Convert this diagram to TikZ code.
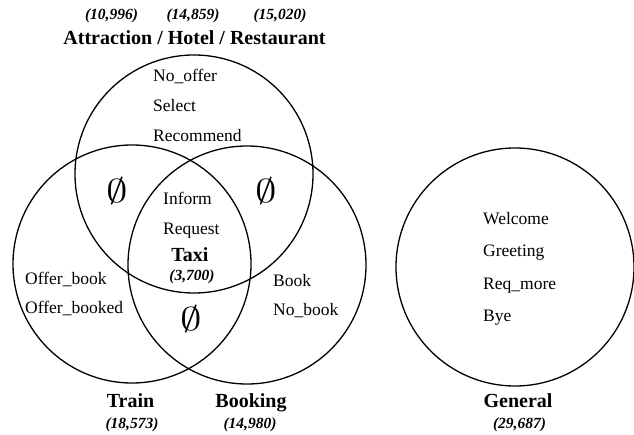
\documentclass[tikz,border=0pt]{standalone}
\usepackage{graphicx}
\usepackage{fontspec}
\setmainfont{Liberation Serif}
\newcommand{\bigempty}{\scalebox{4.3}[3.3]{\fontsize{10}{10}\selectfont$\emptyset$}}
\begin{document}
\begin{tikzpicture}[x=1pt,y=-1pt,
  setc/.style={draw=black,line width=1.3pt,circle,minimum size=238pt,inner sep=0pt},
  itemtxt/.style={anchor=base west,inner sep=0pt,font=\fontsize{17.5}{17.5}\selectfont},
  bigname/.style={anchor=base,inner sep=0pt,font=\fontsize{20}{20}\selectfont\bfseries},
  cnt/.style={anchor=base,inner sep=0pt,font=\fontsize{15.5}{15.5}\selectfont\bfseries\itshape},
  emptyset/.style={inner sep=0pt}]
\useasboundingbox (0,0) rectangle (634,435);
% circles
\node[setc] (top) at (194,174) {};
\node[setc] (train) at (132,264) {};
\node[setc] (booking) at (247,265) {};
\node[setc] (general) at (515,267) {};
% top labels
\node[cnt] (n1) at (111.5,20) {(10,996)};
\node[cnt] (n2) at (193,20) {(14,859)};
\node[cnt] (n3) at (280,20) {(15,020)};
\node[bigname] (ahr) at (194.5,45) {Attraction / Hotel / Restaurant};
% top-only items
\node[itemtxt] (noffer) at (153,82) {No\_offer};
\node[itemtxt] (select) at (153,112) {Select};
\node[itemtxt] (recommend) at (153,142) {Recommend};
% empty sets
\node[emptyset] (e1) at (117,191) {\bigempty};
\node[emptyset] (e2) at (266,191) {\bigempty};
\node[emptyset] (e3) at (191,319) {\bigempty};
% centre
\node[itemtxt] (inform) at (163,205) {Inform};
\node[itemtxt] (request) at (163,235) {Request};
\node[bigname] (taxi) at (190,262) {Taxi};
\node[cnt] (taxin) at (192,281) {(3,700)};
% train-only
\node[itemtxt] (offerbook) at (25,285) {Offer\_book};
\node[itemtxt] (offerbooked) at (25,314) {Offer\_booked};
% booking-only
\node[itemtxt] (book) at (273,287) {Book};
\node[itemtxt] (nobook) at (273,316) {No\_book};
% general
\node[itemtxt] (welcome) at (483,225) {Welcome};
\node[itemtxt] (greeting) at (483,257) {Greeting};
\node[itemtxt] (reqmore) at (483,290) {Req\_more};
\node[itemtxt] (bye) at (483,322) {Bye};
% bottom labels
\node[bigname] (trainl) at (130.5,407) {Train};
\node[cnt] (trainn) at (132,428) {(18,573)};
\node[bigname] (bookingl) at (251,407) {Booking};
\node[cnt] (bookingn) at (250,428) {(14,980)};
\node[bigname] (generall) at (518,407) {General};
\node[cnt] (generaln) at (519.5,428) {(29,687)};
\end{tikzpicture}
\end{document}
